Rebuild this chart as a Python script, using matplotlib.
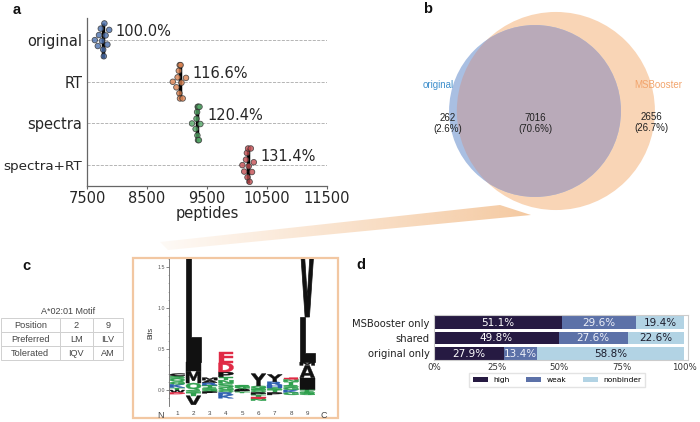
import numpy as np
import matplotlib
matplotlib.use('Agg')
import matplotlib.pyplot as plt
import matplotlib.colors as mcolors
import seaborn as sns
import pandas as pd
from matplotlib.patches import Circle, Rectangle, PathPatch, Polygon
from matplotlib.textpath import TextPath
from matplotlib.font_manager import FontProperties
from matplotlib.transforms import Affine2D

# ---------------- data ----------------
# panel a
conditions = ['original', 'RT', 'spectra', 'spectra+RT']
pep_original = [7630, 7680, 7700, 7730, 7750, 7770, 7780, 7790, 7810, 7840, 7870]
pep_rt = [8930, 8990, 9010, 9030, 9040, 9045, 9050, 9060, 9075, 9095, 9150]
pep_spectra = [9250, 9310, 9325, 9335, 9340, 9345, 9350, 9355, 9365, 9375, 9390]
pep_spectra_rt = [10090, 10120, 10150, 10165, 10175, 10185, 10195, 10210, 10230, 10250, 10280]
pct_labels = ['100.0%', '116.6%', '120.4%', '131.4%']
a_xticks = [7500, 8500, 9500, 10500, 11500]

# panel b
venn_names = ['original', 'MSBooster']
venn_counts = [262, 7016, 2656]  # original only, shared, MSBooster only

# panel c
motif_title = 'A*02:01 Motif'
motif_header = ['Position', '2', '9']
motif_preferred = ['Preferred', 'LM', 'ILV']
motif_tolerated = ['Tolerated', 'IQV', 'AM']
logo_positions = [1, 2, 3, 4, 5, 6, 7, 8, 9]
logo_up_letters = ['TKGQSC', 'QMIL', 'STRAM', 'GSNTPDE', 'AGS', 'SGY', 'SHRY', 'GSTNE', 'IAML']
logo_up_heights = [[0.03, 0.04, 0.03, 0.04, 0.03, 0.03],
                   [0.085, 0.145, 0.11, 1.6],
                   [0.03, 0.03, 0.03, 0.03, 0.03],
                   [0.03, 0.05, 0.04, 0.04, 0.06, 0.11, 0.13],
                   [0.02, 0.02, 0.02],
                   [0.02, 0.03, 0.15],
                   [0.03, 0.03, 0.04, 0.09],
                   [0.03, 0.03, 0.04, 0.03, 0.02],
                   [0.15, 0.15, 0.04, 0.55]]
logo_top_letters = ['', '', '', '', '', '', '', '', 'V']
logo_top_heights = [0, 0, 0, 0, 0, 0, 0, 0, 0.95]
logo_down_letters = ['WD', 'STV', 'GP', 'QRK', 'PT', 'QPTEN', 'TP', 'KG', 'TSG']
logo_down_heights = [[0.03, 0.02],
                     [0.035, 0.035, 0.11],
                     [0.02, 0.02],
                     [0.03, 0.03, 0.04],
                     [0.02, 0.02],
                     [0.03, 0.03, 0.03, 0.02, 0.02],
                     [0.03, 0.03],
                     [0.03, 0.03],
                     [0.02, 0.02, 0.02]]

# panel d
binding_groups = ['MSBooster only', 'shared', 'original only']
binding_classes = ['high', 'weak', 'nonbinder']
high_pct = [51.1, 49.8, 27.9]
weak_pct = [29.6, 27.6, 13.4]
nonbinder_pct = [19.4, 22.6, 58.8]

# ---------------- figure ----------------
W, H = 700, 422
fig = plt.figure(figsize=(7, 4.22), dpi=100)
fig.patch.set_facecolor('white')


def px_axes(x0, y0, x1, y1):
    return fig.add_axes([x0 / W, 1 - y1 / H, (x1 - x0) / W, (y1 - y0) / H])


ARIAL = 'Liberation Sans'

# overlay (wedge, table, box)
ovl = px_axes(0, 0, W, H)
ovl.axis('off')
wedge = Polygon([(500, 205), (531, 215), (168, 250), (160, 242)], closed=True,
                facecolor='none', edgecolor='none')
ovl.add_patch(wedge)
grad = np.zeros((2, 256, 4))
grad[..., :3] = mcolors.to_rgb('#f3c294')
grad[..., 3] = np.linspace(0.08, 0.88, 256)[None, :]
im = ovl.imshow(grad, extent=(158, 533, 252, 203), aspect='auto', interpolation='bilinear')
im.set_clip_path(wedge)
ovl.add_patch(Rectangle((133, 258), 205, 160, fill=False, edgecolor='#f2c7a2', lw=1.6))
ovl.text(68, 312, motif_title, ha='center', va='center', fontsize=6.5, family=ARIAL, color='#444444')
tbl = ovl.table(cellText=[motif_header, motif_preferred, motif_tolerated], cellLoc='center',
                colWidths=[59, 34, 30], bbox=[1 / W, 1 - 360 / H, 122 / W, 42 / H])
tbl.auto_set_font_size(False)
tbl.set_fontsize(6.6)
for cell in tbl.get_celld().values():
    cell.set_edgecolor('#d0d0d0')
    cell.set_linewidth(0.7)
    cell.get_text().set_color('#444444')
    cell.get_text().set_fontfamily(ARIAL)
ovl.set_xlim(0, W)
ovl.set_ylim(H, 0)

# ---------------- panel a ----------------
axA = px_axes(87, 18, 327, 186)
series = [pep_original, pep_rt, pep_spectra, pep_spectra_rt]
df = pd.DataFrame({'condition': np.repeat(conditions, [len(s) for s in series]),
                   'peptides': np.concatenate(series)})
pal = sns.color_palette('deep', 4)
sns.swarmplot(data=df, x='peptides', y='condition', hue='condition', order=conditions,
              hue_order=conditions, palette=pal, size=4, edgecolor='#333333', linewidth=0.6,
              alpha=0.8, legend=False, ax=axA, zorder=3)
means = [np.mean(s) for s in series]
pos = np.arange(len(conditions))
axA.vlines(means, pos - 0.42, pos + 0.42, color='black', lw=2.5, zorder=2)
for i, (s, lab) in enumerate(zip(series, pct_labels)):
    axA.text(max(s) + 110, i - 0.2, lab, fontsize=10.5, va='center', ha='left', color='#262626')
axA.set_xlim(7500, 11500)
axA.set_ylim(3.5, -0.53)
axA.set_xticks(a_xticks)
axA.set_xticklabels([str(t) for t in a_xticks])
axA.set_xlabel('peptides', fontsize=10.5, labelpad=0, color='#262626')
axA.set_ylabel('')
axA.tick_params(axis='y', length=0, labelsize=10.5, pad=3.5, colors='#262626')
axA.tick_params(axis='x', length=2.5, labelsize=10.5, pad=1, colors='#262626', color='#666666')
for lab in axA.get_yticklabels():
    if len(lab.get_text()) > 8:
        lab.set_fontsize(9.7)
for sp in ['top', 'right']:
    axA.spines[sp].set_visible(False)
for sp in ['left', 'bottom']:
    axA.spines[sp].set_color('#666666')
    axA.spines[sp].set_linewidth(0.9)
axA.yaxis.grid(True, ls='--', color='#aaaaaa', lw=0.6)
axA.xaxis.grid(False)
axA.set_axisbelow(True)

# ---------------- panel b ----------------
axB = px_axes(380, 0, 700, 240)
axB.axis('off')
area_orig = venn_counts[0] + venn_counts[1]
area_ms = venn_counts[1] + venn_counts[2]
r1 = np.sqrt(area_orig / np.pi)
r2 = np.sqrt(area_ms / np.pi)


def lens(d, a, b):
    if d >= a + b:
        return 0.0
    if d <= abs(a - b):
        return np.pi * min(a, b) ** 2
    t1 = a * a * np.arccos((d * d + a * a - b * b) / (2 * d * a))
    t2 = b * b * np.arccos((d * d + b * b - a * a) / (2 * d * b))
    t3 = 0.5 * np.sqrt((-d + a + b) * (d + a - b) * (d - a + b) * (d + a + b))
    return t1 + t2 - t3


lo, hi = abs(r1 - r2) + 1e-9, r1 + r2
for _ in range(100):
    mid = 0.5 * (lo + hi)
    if lens(mid, r1, r2) > venn_counts[1]:
        lo = mid
    else:
        hi = mid
dd = 0.5 * (lo + hi)
s = 1.785
axB.set_xlim(-155 / s, 165 / s)
axB.set_ylim(-129 / s, 111 / s)
c_ms = Circle((dd, 0), r2, fc='#f9d5b6', ec='none')
c_or = Circle((0, 0), r1, fc='#a9bfe2', ec='none')
c_ov = Circle((0, 0), r1, fc='#b9aab9', ec='none')
axB.add_patch(c_ms)
axB.add_patch(c_or)
axB.add_patch(c_ov)
c_ov.set_clip_path(c_ms)
tot = sum(venn_counts)
fs_b = 7.0
axB.text(-r1 - 1.0, -7, f'{venn_counts[0]}\n({venn_counts[0] / tot * 100:.1f}%)', ha='center',
         va='center', fontsize=fs_b, family=ARIAL, color='#222222', linespacing=1.2)
axB.text(0, -7, f'{venn_counts[1]}\n({venn_counts[1] / tot * 100:.1f}%)', ha='center',
         va='center', fontsize=fs_b, family=ARIAL, color='#222222', linespacing=1.2)
axB.text(dd + r2 - 1.7, -6.5, f'{venn_counts[2]}\n({venn_counts[2] / tot * 100:.1f}%)', ha='center',
         va='center', fontsize=fs_b, family=ARIAL, color='#222222', linespacing=1.2)
axB.text(-r1 + 2.6, 14.6, venn_names[0], ha='right', va='center', fontsize=fs_b, family=ARIAL,
         color='#3f8fcc')
axB.text(dd + r2 - 11.3, 14.6, venn_names[1], ha='left', va='center', fontsize=fs_b, family=ARIAL,
         color='#f2a46c')

# ---------------- panel c (logo) ----------------
axL = px_axes(156.1, 258.8, 328.4, 406.4)
axL.patch.set_alpha(0)
logo_font = FontProperties(family='DejaVu Sans', weight='bold')
letter_colors = {}
for ch in 'ACFILMPVWY':
    letter_colors[ch] = '#111111'
for ch in 'GNQST':
    letter_colors[ch] = '#2fa04e'
for ch in 'HKR':
    letter_colors[ch] = '#2d5fb0'
for ch in 'DE':
    letter_colors[ch] = '#e02a45'


def draw_letter(ax, ch, x, y0, h, w=0.92):
    tp = TextPath((0, 0), ch, size=1, prop=logo_font)
    bb = tp.get_extents()
    tr = Affine2D().translate(-bb.x0, -bb.y0).scale(w / bb.width, h / bb.height).translate(x - w / 2, y0)
    col = letter_colors[ch]
    ax.add_patch(PathPatch(tr.transform_path(tp), facecolor=col, edgecolor=col,
                           lw=0.5 if h > 0.3 else 0.3))


for p, ul, uh, tl, th, dl, dh in zip(logo_positions, logo_up_letters, logo_up_heights,
                                      logo_top_letters, logo_top_heights,
                                      logo_down_letters, logo_down_heights):
    y = 0.0
    for ch, h in zip(ul, uh):
        draw_letter(axL, ch, p, y, h)
        y += h
    if tl:
        draw_letter(axL, tl, p, y, th)
    y = 0.0
    for ch, h in zip(dl, dh):
        y -= h
        draw_letter(axL, ch, p, y, h)

axL.set_xlim(-0.3, 10.3)
axL.set_ylim(-0.2, 1.6)
for sp in ['top', 'right', 'bottom']:
    axL.spines[sp].set_visible(False)
axL.spines['left'].set_position(('data', 0.5))
axL.spines['left'].set_color('#666666')
axL.spines['left'].set_linewidth(0.6)
axL.set_yticks([0, 0.5, 1.0, 1.5])
axL.set_yticklabels(['0.0', '0.5', '1.0', '1.5'])
axL.set_yticks(np.arange(-0.1, 1.61, 0.1), minor=True)
axL.tick_params(axis='y', which='major', length=2, width=0.5, labelsize=3.8, pad=1, colors='#555555')
axL.tick_params(axis='y', which='minor', length=1, width=0.4, colors='#888888')
axL.set_xticks(range(0, 11))
axL.set_xticklabels(['N'] + [str(p) for p in logo_positions] + ['C'])
axL.tick_params(axis='x', length=0, labelsize=4.5, pad=3, colors='#444444')
for lab in axL.get_xticklabels():
    lab.set_fontfamily(ARIAL)
    if lab.get_text() in ('N', 'C'):
        lab.set_fontsize(6.5)
for lab in axL.get_yticklabels():
    lab.set_fontfamily(ARIAL)
axL.set_ylabel('Bits', fontsize=5.2, family=ARIAL, labelpad=2, color='#333333')

# ---------------- panel d ----------------
axD = px_axes(434, 315, 688, 360)
colors_d = ['#261a42', '#5c71a8', '#b2d3e4']
text_cols = ['white', '#eef0f8', '#1c1c2c']
ypos = np.arange(len(binding_groups))
left = np.zeros(len(binding_groups))
for vals, name, col, tc in zip([high_pct, weak_pct, nonbinder_pct], binding_classes, colors_d, text_cols):
    vals = np.array(vals)
    axD.barh(ypos, vals, left=left, height=0.84, color=col, label=name, edgecolor='none')
    for yy, l, v in zip(ypos, left, vals):
        axD.text(l + v / 2, yy + 0.03, f'{v:.1f}%', ha='center', va='center', fontsize=7.5, color=tc)
    left = left + vals
axD.set_xlim(0, 101.6)
axD.set_ylim(2.44, -0.5)
axD.set_yticks(ypos)
axD.set_yticklabels(binding_groups)
axD.set_xticks([0, 25, 50, 75, 100])
axD.set_xticklabels(['0%', '25%', '50%', '75%', '100%'])
axD.tick_params(axis='y', length=0, labelsize=7.2, pad=3, colors='#222222')
axD.tick_params(axis='x', length=0, labelsize=6.2, pad=2.5, colors='#333333')
for sp in axD.spines.values():
    sp.set_color('#cccccc')
    sp.set_linewidth(0.8)
axD.legend(loc='center', bbox_to_anchor=(557 / W, 1 - 380 / H), bbox_transform=fig.transFigure,
           ncol=3, fontsize=5.4, frameon=True, edgecolor='#dddddd', fancybox=False,
           handlelength=2.0, handleheight=0.7, handletextpad=0.7, columnspacing=2.2,
           borderpad=0.5)

# ---------------- panel letters ----------------
for lab, x, y in [('a', 17, 10), ('b', 428, 9), ('c', 26, 266), ('d', 361, 265)]:
    fig.text(x / W, 1 - y / H, lab, fontsize=10.5, fontweight='bold', family=ARIAL,
             ha='center', va='center', color='#111111')

fig.savefig('out.png', dpi=100)
